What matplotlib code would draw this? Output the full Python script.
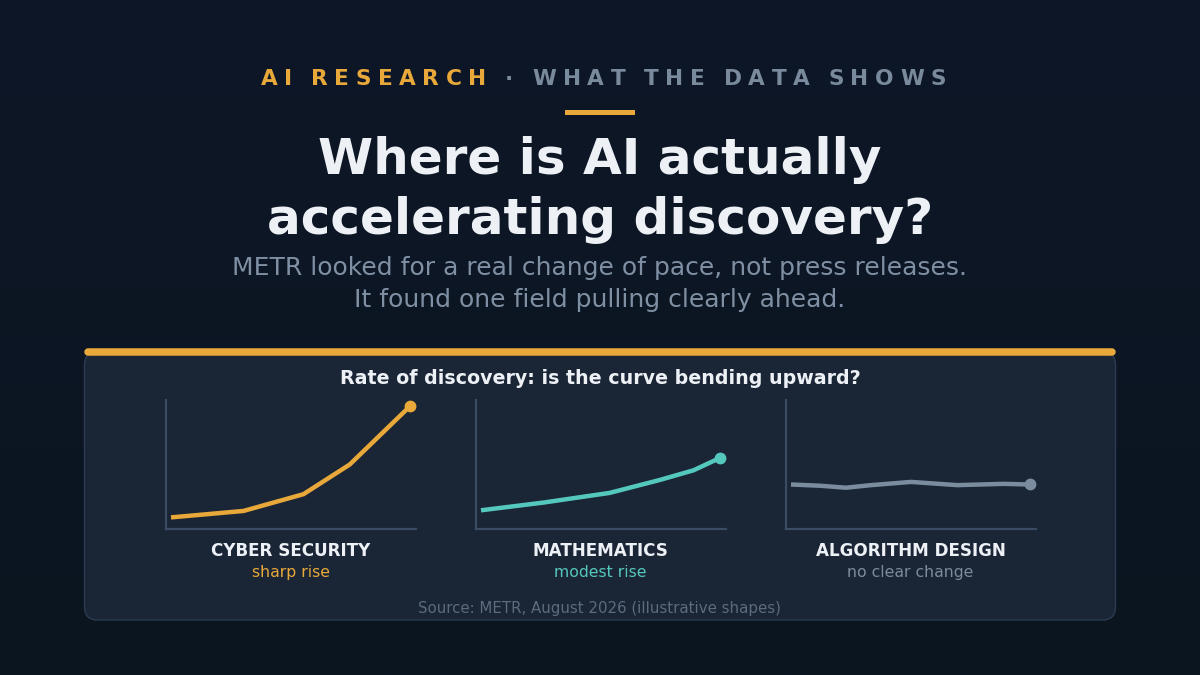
import matplotlib
matplotlib.use("Agg")
import matplotlib.pyplot as plt
import numpy as np
from matplotlib.colors import LinearSegmentedColormap
from matplotlib.patches import FancyBboxPatch, Rectangle

plt.rcParams["font.family"] = ["DejaVu Sans"]

W, H = 1200, 675

# ── data (illustrative shapes) ───────────────────────────────────────────
cyber_x = [0.2, 3.1, 5.5, 7.35, 9.75]
cyber_y = [0.9, 1.4, 2.7, 5.0, 9.5]

math_x = [0.2, 2.7, 5.35, 7.35, 8.7, 9.75]
math_y = [1.45, 2.05, 2.8, 3.8, 4.55, 5.5]

algo_x = [0.2, 1.4, 2.4, 3.4, 5.0, 6.85, 8.7, 9.75]
algo_y = [3.45, 3.35, 3.2, 3.4, 3.65, 3.4, 3.5, 3.45]

fields = ["CYBER SECURITY", "MATHEMATICS", "ALGORITHM DESIGN"]
verdicts = ["sharp rise", "modest rise", "no clear change"]

GOLD = "#E8A93A"
TEAL = "#55C8BE"
SLATE = "#7B8C9E"
BG_TOP = "#0E1727"
BG_BOT = "#0B1520"
CARD = "#1A2536"
SPINE = "#3A4C64"
WHITE = "#EDF1F6"
MUTED = "#8090A4"

fig = plt.figure(figsize=(12, 6.75), dpi=100)
bg = fig.add_axes([0, 0, 1, 1])
bg.set_xlim(0, W)
bg.set_ylim(H, 0)
bg.set_axis_off()

# background gradient
grad = np.linspace(0, 1, 256).reshape(-1, 1)
cmap = LinearSegmentedColormap.from_list("bg", [BG_TOP, BG_BOT])
bg.imshow(grad, cmap=cmap, extent=[0, W, H, 0], aspect="auto", zorder=0)

# ── header ──────────────────────────────────────────────────────────────
renderer = fig.canvas.get_renderer()


def spaced_text(ax, x_center, y, parts, size, spacing, space_w):
    """Draw letter-spaced text; parts = [(string, colour), ...]."""
    chars = [(c, col) for s, col in parts for c in s]
    widths = []
    for c, _ in chars:
        if c == " ":
            widths.append(space_w)
            continue
        t = ax.text(0, 0, c, fontsize=size, fontweight="bold")
        widths.append(t.get_window_extent(renderer).width)
        t.remove()
    total = sum(widths) + spacing * (len(chars) - 1)
    x = x_center - total / 2
    for (c, col), w in zip(chars, widths):
        if c != " ":
            ax.text(x, y, c, fontsize=size, fontweight="bold", color=col,
                    ha="left", va="baseline", zorder=3)
        x += w + spacing


spaced_text(bg, 603.5, 85, [("AI RESEARCH", GOLD), (" · WHAT THE DATA SHOWS", "#7A8A9D")],
            size=15.6, spacing=6.6, space_w=5.5)
bg.add_patch(Rectangle((565, 110), 70, 5, color=GOLD, lw=0, zorder=3))

bg.text(600, 173.5, "Where is AI actually", fontsize=36, fontweight="bold",
        color=WHITE, ha="center", va="baseline", zorder=3)
bg.text(600, 233.5, "accelerating discovery?", fontsize=36, fontweight="bold",
        color=WHITE, ha="center", va="baseline", zorder=3)
bg.text(600, 275, "METR looked for a real change of pace, not press releases.",
        fontsize=18, color=MUTED, ha="center", va="baseline", zorder=3)
bg.text(600, 307.5, "It found one field pulling clearly ahead.",
        fontsize=18, color=MUTED, ha="center", va="baseline", zorder=3)

# ── card ────────────────────────────────────────────────────────────────
bg.add_patch(FancyBboxPatch((84.5, 352), 1031, 268, boxstyle="round,pad=0,rounding_size=13",
                            fc=CARD, ec="#2B3B52", lw=1, zorder=1))
bg.plot([88, 1112], [351.5, 351.5], color=GOLD, lw=5.4, solid_capstyle="round", zorder=2)

bg.text(600, 384, "Rate of discovery: is the curve bending upward?", fontsize=13.7,
        fontweight="bold", color=WHITE, ha="center", va="baseline", zorder=3)

panels = [
    (166, cyber_x, cyber_y, GOLD),
    (476, math_x, math_y, TEAL),
    (786, algo_x, algo_y, SLATE),
]
for (left, xs, ys, col), name, verdict in zip(panels, fields, verdicts):
    ax = fig.add_axes([left / W, 1 - 529 / H, 250 / W, 129 / H])
    ax.patch.set_alpha(0)
    ax.set_xlim(0, 10)
    ax.set_ylim(0, 10)
    ax.plot(xs, ys, color=col, lw=3.2, solid_capstyle="butt", solid_joinstyle="round",
            zorder=3, clip_on=False)
    ax.plot(xs[-1], ys[-1], "o", color=col, ms=8.5, mec="none", zorder=4, clip_on=False)
    for side in ["top", "right"]:
        ax.spines[side].set_visible(False)
    for side in ["left", "bottom"]:
        ax.spines[side].set_color(SPINE)
        ax.spines[side].set_linewidth(1.6)
    ax.set_xticks([])
    ax.set_yticks([])

    cx = left + 124.5
    bg.text(cx, 556, name, fontsize=12.1, fontweight="bold", color=WHITE,
            ha="center", va="baseline", zorder=3)
    bg.text(cx, 577, verdict, fontsize=11.3, color=col if col != SLATE else "#7D8C9C",
            ha="center", va="baseline", zorder=3)

bg.text(600, 612.5, "Source: METR, August 2026 (illustrative shapes)", fontsize=10.8,
        color="#5C6B7E", ha="center", va="baseline", zorder=3)

fig.savefig("out.png", dpi=100, facecolor=BG_BOT)
